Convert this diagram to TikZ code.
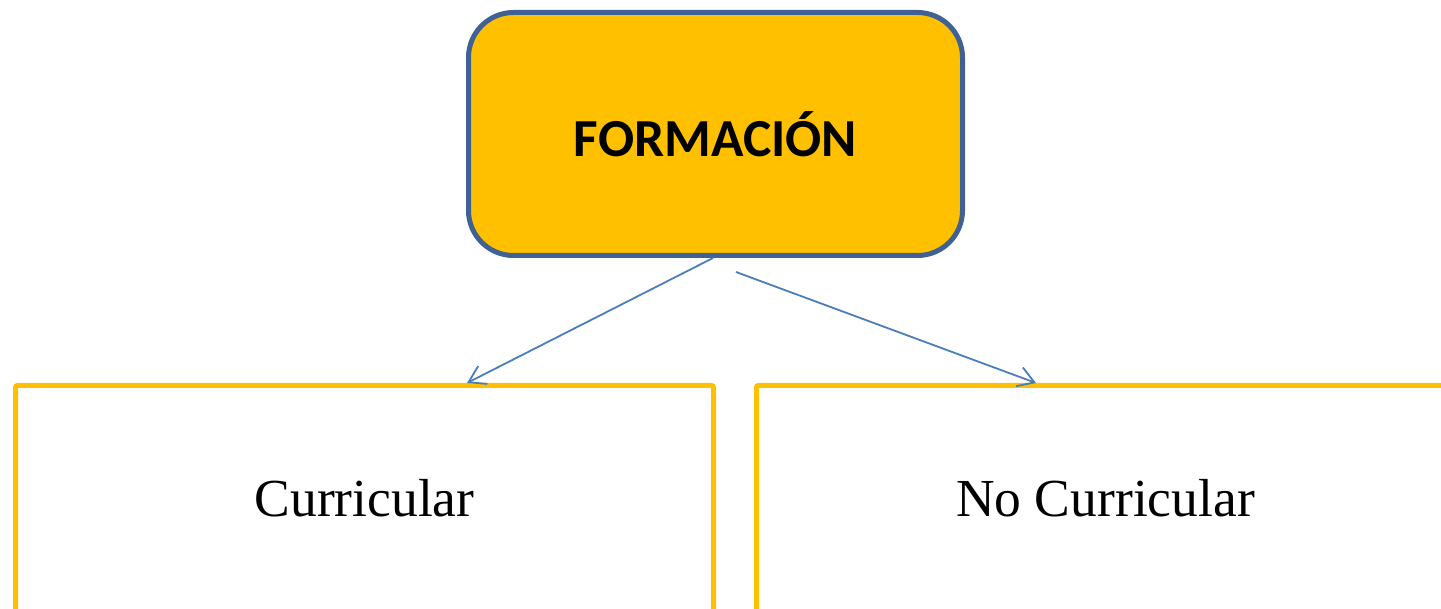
\documentclass[tikz,border=0pt]{standalone}
\usepackage{fontspec}
\setmainfont{Liberation Serif}
\newfontfamily\calibri{Carlito}
\usetikzlibrary{arrows.meta}
\definecolor{boxgold}{RGB}{255,192,0}
\definecolor{edgeblue}{RGB}{63,97,148}
\definecolor{linkblue}{RGB}{74,126,187}

\begin{document}
\begin{tikzpicture}[
			      x=1pt, y=-1pt,
			      link/.style={draw=linkblue, line width=1.8pt, -{Straight Barb[length=16pt,width=20pt]}},
			      topbox/.style={
					      draw=edgeblue,
					      fill=boxgold,
					      line width=5pt,
					      rounded corners=45pt,
					      minimum width=494pt,
					      minimum height=243pt,
					      font=\calibri\bfseries\fontsize{53.5}{60}\selectfont
				      },
			      sidebox/.style={
					      draw=boxgold,
					      line width=5pt,
					      rounded corners=2pt,
					      minimum width=698pt,
					      minimum height=226pt,
					      font=\fontsize{53.5}{60}\selectfont
				      }
		      ]
		      \useasboundingbox (0,0) rectangle (1441,609);
		      \clip (0,0) rectangle (1441,609);
		      \node[topbox] (form) at (715.5,134) {FORMACIÓN};
		      \node[sidebox] (curr) at (364.5,498.5) {Curricular};
		      \node[sidebox] (nocurr) at (1105.5,498.5) {No Curricular};
		      % arrow ends
		      \coordinate (l0) at ([xshift=-2.5pt]form.south);
		      \coordinate (r0) at ([shift={(20.5pt,-14pt)}]form.south);
		      \draw[link] (l0) -- ([xshift=102.5pt]curr.north);
		      \draw[link] (r0) -- ([xshift=-69.5pt]nocurr.north);
	      \end{tikzpicture}
\end{document}
